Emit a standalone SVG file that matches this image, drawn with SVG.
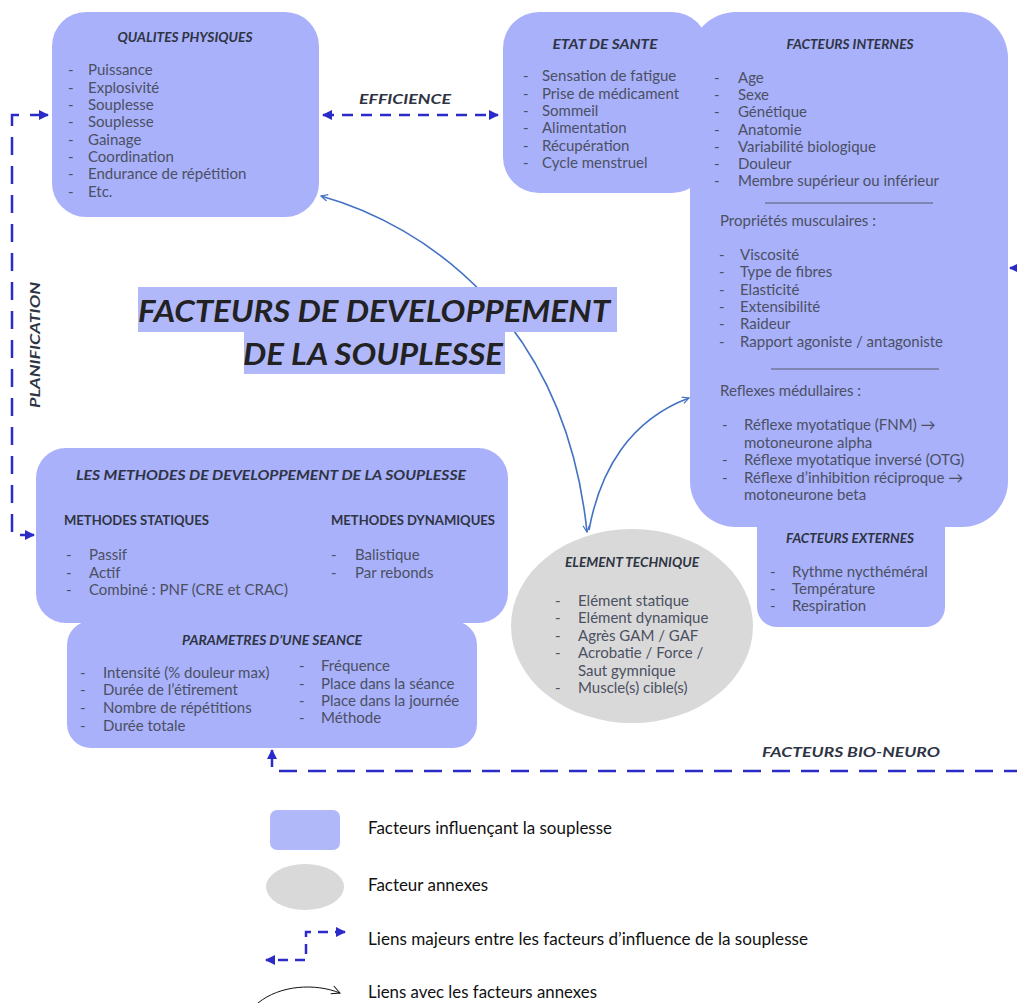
<svg xmlns="http://www.w3.org/2000/svg" width="1017" height="1003" viewBox="0 0 1017 1003">
<defs>
<style>
.box{fill:#a9b1fb}
.hl{fill:#b1b8fa}
.h{font-family:Lato,"Liberation Sans",sans-serif;font-weight:bold;font-style:italic;fill:#2e3443;text-anchor:middle;font-size:13.5px}
.t{font-family:Lato,"Liberation Sans",sans-serif;font-size:15px;fill:#4b5062}
.sub{font-family:Lato,"Liberation Sans",sans-serif;font-weight:bold;font-size:13.5px;fill:#2e3443}
.lg{font-family:"Liberation Sans Narrow",Lato,"Liberation Sans",sans-serif;font-size:16.5px;fill:#111}
.dash{fill:none;stroke:#2b2bc8;stroke-width:2.5;stroke-dasharray:18 11}
.dash2{fill:none;stroke:#2b2bc8;stroke-width:2.5;stroke-dasharray:11 8}
.curve{fill:none;stroke:#4472c4;stroke-width:1.6}
.sep{stroke:#555a66;stroke-width:1}
</style>
<marker id="mD" viewBox="0 0 10 10" refX="9" refY="5" markerWidth="4" markerHeight="4" orient="auto-start-reverse" markerUnits="strokeWidth">
<path d="M0,0 L10,5 L0,10 z" fill="#2b2bc8"/>
</marker>
<marker id="mC" viewBox="0 0 12 12" refX="11" refY="6" markerWidth="8" markerHeight="8" orient="auto-start-reverse" markerUnits="userSpaceOnUse">
<path d="M1,1 L11,6 L1,11" fill="none" stroke="#4472c4" stroke-width="1.8"/>
</marker>
<marker id="mK" viewBox="0 0 12 12" refX="11" refY="6" markerWidth="10" markerHeight="10" orient="auto" markerUnits="userSpaceOnUse">
<path d="M1,1 L11,6 L1,11" fill="none" stroke="#111" stroke-width="1.2"/>
</marker>
</defs>

<g id="connectors">
<path class="dash" d="M48 115 H12 V535 H34" marker-start="url(#mD)" marker-end="url(#mD)"/>
<path class="dash2" d="M323 115 H498" marker-start="url(#mD)" marker-end="url(#mD)"/>
<path class="dash" d="M1010 268 H1040 V771 H272 V750" marker-start="url(#mD)" marker-end="url(#mD)"/>
<path class="curve" d="M321 196 C425 225 565 320 587 532" marker-start="url(#mC)" marker-end="url(#mC)"/>
<path class="curve" d="M589 530 C600 470 630 420 689 398" marker-end="url(#mC)"/>
</g>

<g id="labels">
<text class="h" x="405" y="104" font-size="15.5" textLength="92" lengthAdjust="spacingAndGlyphs">EFFICIENCE</text>
<text class="h" x="0" y="0" font-size="15" transform="translate(40 345) rotate(-90)" textLength="126" lengthAdjust="spacingAndGlyphs">PLANIFICATION</text>
<text class="h" x="851" y="757" font-size="16" textLength="178" lengthAdjust="spacingAndGlyphs">FACTEURS BIO-NEURO</text>
</g>

<g id="title">
<rect class="hl" x="138" y="287" width="479" height="45"/>
<rect class="hl" x="244" y="332" width="261" height="42"/>
<text x="374" y="322" text-anchor="middle" font-family="Lato,'Liberation Sans',sans-serif" font-weight="bold" font-style="italic" font-size="30" fill="#222" textLength="472" lengthAdjust="spacingAndGlyphs">FACTEURS DE DEVELOPPEMENT</text>
<text x="373" y="365" text-anchor="middle" font-family="Lato,'Liberation Sans',sans-serif" font-weight="bold" font-style="italic" font-size="30" fill="#222" textLength="260" lengthAdjust="spacingAndGlyphs">DE LA SOUPLESSE</text>
</g>

<g id="qualites">
<rect class="box" x="52" y="12" width="267" height="205" rx="34"/>
<text class="h" x="185" y="42" textLength="135" lengthAdjust="spacingAndGlyphs">QUALITES PHYSIQUES</text>
<text class="t" x="68" y="75">-</text><text class="t" x="88" y="75">Puissance</text>
<text class="t" x="68" y="93">-</text><text class="t" x="88" y="93">Explosivité</text>
<text class="t" x="68" y="110">-</text><text class="t" x="88" y="110">Souplesse</text>
<text class="t" x="68" y="127">-</text><text class="t" x="88" y="127">Souplesse</text>
<text class="t" x="68" y="145">-</text><text class="t" x="88" y="145">Gainage</text>
<text class="t" x="68" y="162">-</text><text class="t" x="88" y="162">Coordination</text>
<text class="t" x="68" y="179">-</text><text class="t" x="88" y="179">Endurance de répétition</text>
<text class="t" x="68" y="197">-</text><text class="t" x="88" y="197">Etc.</text>
</g>

<g id="externes">
<rect class="box" x="757" y="505" width="188" height="122" rx="20"/>
<text class="h" x="850" y="543" textLength="128" lengthAdjust="spacingAndGlyphs">FACTEURS EXTERNES</text>
<text class="t" x="770" y="577">-</text><text class="t" x="792" y="577">Rythme nycthéméral</text>
<text class="t" x="770" y="594">-</text><text class="t" x="792" y="594">Température</text>
<text class="t" x="770" y="611">-</text><text class="t" x="792" y="611">Respiration</text>
</g>

<g id="internes">
<rect class="box" x="690" y="12" width="318" height="515" rx="46"/>
<text class="h" x="850" y="49" textLength="127" lengthAdjust="spacingAndGlyphs">FACTEURS INTERNES</text>
<text class="t" x="714" y="83">-</text><text class="t" x="738" y="83">Age</text>
<text class="t" x="714" y="100">-</text><text class="t" x="738" y="100">Sexe</text>
<text class="t" x="714" y="117">-</text><text class="t" x="738" y="117">Génétique</text>
<text class="t" x="714" y="135">-</text><text class="t" x="738" y="135">Anatomie</text>
<text class="t" x="714" y="152">-</text><text class="t" x="738" y="152">Variabilité biologique</text>
<text class="t" x="714" y="169">-</text><text class="t" x="738" y="169">Douleur</text>
<text class="t" x="714" y="186">-</text><text class="t" x="738" y="186">Membre supérieur ou inférieur</text>
<line class="sep" x1="765" y1="203" x2="933" y2="203"/>
<text class="t" x="720" y="226">Propriétés musculaires :</text>
<text class="t" x="719" y="260">-</text><text class="t" x="740" y="260">Viscosité</text>
<text class="t" x="719" y="277">-</text><text class="t" x="740" y="277">Type de fibres</text>
<text class="t" x="719" y="295">-</text><text class="t" x="740" y="295">Elasticité</text>
<text class="t" x="719" y="312">-</text><text class="t" x="740" y="312">Extensibilité</text>
<text class="t" x="719" y="329">-</text><text class="t" x="740" y="329">Raideur</text>
<text class="t" x="719" y="347">-</text><text class="t" x="740" y="347">Rapport agoniste / antagoniste</text>
<line class="sep" x1="771" y1="369" x2="939" y2="369"/>
<text class="t" x="720" y="396">Reflexes médullaires :</text>
<text class="t" x="722" y="430">-</text><text class="t" x="744" y="430">Réflexe myotatique (FNM) →</text>
<text class="t" x="744" y="448">motoneurone alpha</text>
<text class="t" x="722" y="465">-</text><text class="t" x="744" y="465">Réflexe myotatique inversé (OTG)</text>
<text class="t" x="722" y="483">-</text><text class="t" x="744" y="483">Réflexe d’inhibition réciproque →</text>
<text class="t" x="744" y="500">motoneurone beta</text>
</g>

<g id="sante">
<rect class="box" x="503" y="12" width="205" height="181" rx="36"/>
<text class="h" x="605" y="49" font-size="14.5" textLength="105" lengthAdjust="spacingAndGlyphs">ETAT DE SANTE</text>
<text class="t" x="523" y="81">-</text><text class="t" x="542" y="81">Sensation de fatigue</text>
<text class="t" x="523" y="99">-</text><text class="t" x="542" y="99">Prise de médicament</text>
<text class="t" x="523" y="116">-</text><text class="t" x="542" y="116">Sommeil</text>
<text class="t" x="523" y="133">-</text><text class="t" x="542" y="133">Alimentation</text>
<text class="t" x="523" y="151">-</text><text class="t" x="542" y="151">Récupération</text>
<text class="t" x="523" y="168">-</text><text class="t" x="542" y="168">Cycle menstruel</text>
</g>

<g id="element">
<ellipse cx="632" cy="626" rx="121" ry="97" fill="#d9d9d9"/>
<text class="h" x="632" y="567" textLength="134" lengthAdjust="spacingAndGlyphs">ELEMENT TECHNIQUE</text>
<text class="t" x="555" y="606">-</text><text class="t" x="578" y="606">Elément statique</text>
<text class="t" x="555" y="623">-</text><text class="t" x="578" y="623">Elément dynamique</text>
<text class="t" x="555" y="641">-</text><text class="t" x="578" y="641">Agrès GAM / GAF</text>
<text class="t" x="555" y="658">-</text><text class="t" x="578" y="658">Acrobatie / Force /</text>
<text class="t" x="578" y="676">Saut gymnique</text>
<text class="t" x="555" y="693">-</text><text class="t" x="578" y="693">Muscle(s) cible(s)</text>
</g>

<g id="methodes">
<rect class="box" x="36" y="448" width="472" height="175" rx="30"/>
<text class="h" x="271" y="480" textLength="390" lengthAdjust="spacingAndGlyphs">LES METHODES DE DEVELOPPEMENT DE LA SOUPLESSE</text>
<text class="sub" x="64" y="525" textLength="145" lengthAdjust="spacingAndGlyphs">METHODES STATIQUES</text>
<text class="sub" x="331" y="525" textLength="164" lengthAdjust="spacingAndGlyphs">METHODES DYNAMIQUES</text>
<text class="t" x="66" y="560">-</text><text class="t" x="89" y="560">Passif</text>
<text class="t" x="66" y="578">-</text><text class="t" x="89" y="578">Actif</text>
<text class="t" x="66" y="595">-</text><text class="t" x="89" y="595">Combiné : PNF (CRE et CRAC)</text>
<text class="t" x="331" y="560">-</text><text class="t" x="355" y="560">Balistique</text>
<text class="t" x="331" y="578">-</text><text class="t" x="355" y="578">Par rebonds</text>
</g>

<g id="parametres">
<rect class="box" x="67" y="621" width="410" height="127" rx="24"/>
<text class="h" x="272" y="645" textLength="180" lengthAdjust="spacingAndGlyphs">PARAMETRES D’UNE SEANCE</text>
<text class="t" x="80" y="678">-</text><text class="t" x="103" y="678">Intensité (% douleur max)</text>
<text class="t" x="80" y="695">-</text><text class="t" x="103" y="695">Durée de l’étirement</text>
<text class="t" x="80" y="713">-</text><text class="t" x="103" y="713">Nombre de répétitions</text>
<text class="t" x="80" y="731">-</text><text class="t" x="103" y="731">Durée totale</text>
<text class="t" x="299" y="671">-</text><text class="t" x="321" y="671">Fréquence</text>
<text class="t" x="299" y="689">-</text><text class="t" x="321" y="689">Place dans la séance</text>
<text class="t" x="299" y="706">-</text><text class="t" x="321" y="706">Place dans la journée</text>
<text class="t" x="299" y="723">-</text><text class="t" x="321" y="723">Méthode</text>
</g>

<g id="legend">
<rect class="hl" x="270" y="810" width="70" height="40" rx="7"/>
<text class="lg" x="368" y="834" textLength="244" lengthAdjust="spacingAndGlyphs">Facteurs influençant la souplesse</text>
<ellipse cx="305" cy="887" rx="39" ry="23" fill="#d9d9d9"/>
<text class="lg" x="368" y="891" textLength="120" lengthAdjust="spacingAndGlyphs">Facteur annexes</text>
<path d="M345 932 H306 V960 H266" fill="none" stroke="#2b2bc8" stroke-width="2.5" stroke-dasharray="10 7" marker-start="url(#mD)" marker-end="url(#mD)"/>
<text class="lg" x="368" y="945" textLength="440" lengthAdjust="spacingAndGlyphs">Liens majeurs entre les facteurs d’influence de la souplesse</text>
<path d="M258 1003 C280 985 315 983 340 993" fill="none" stroke="#111" stroke-width="1" marker-end="url(#mK)"/>
<text class="lg" x="368" y="998" textLength="229" lengthAdjust="spacingAndGlyphs">Liens avec les facteurs annexes</text>
</g>
</svg>
